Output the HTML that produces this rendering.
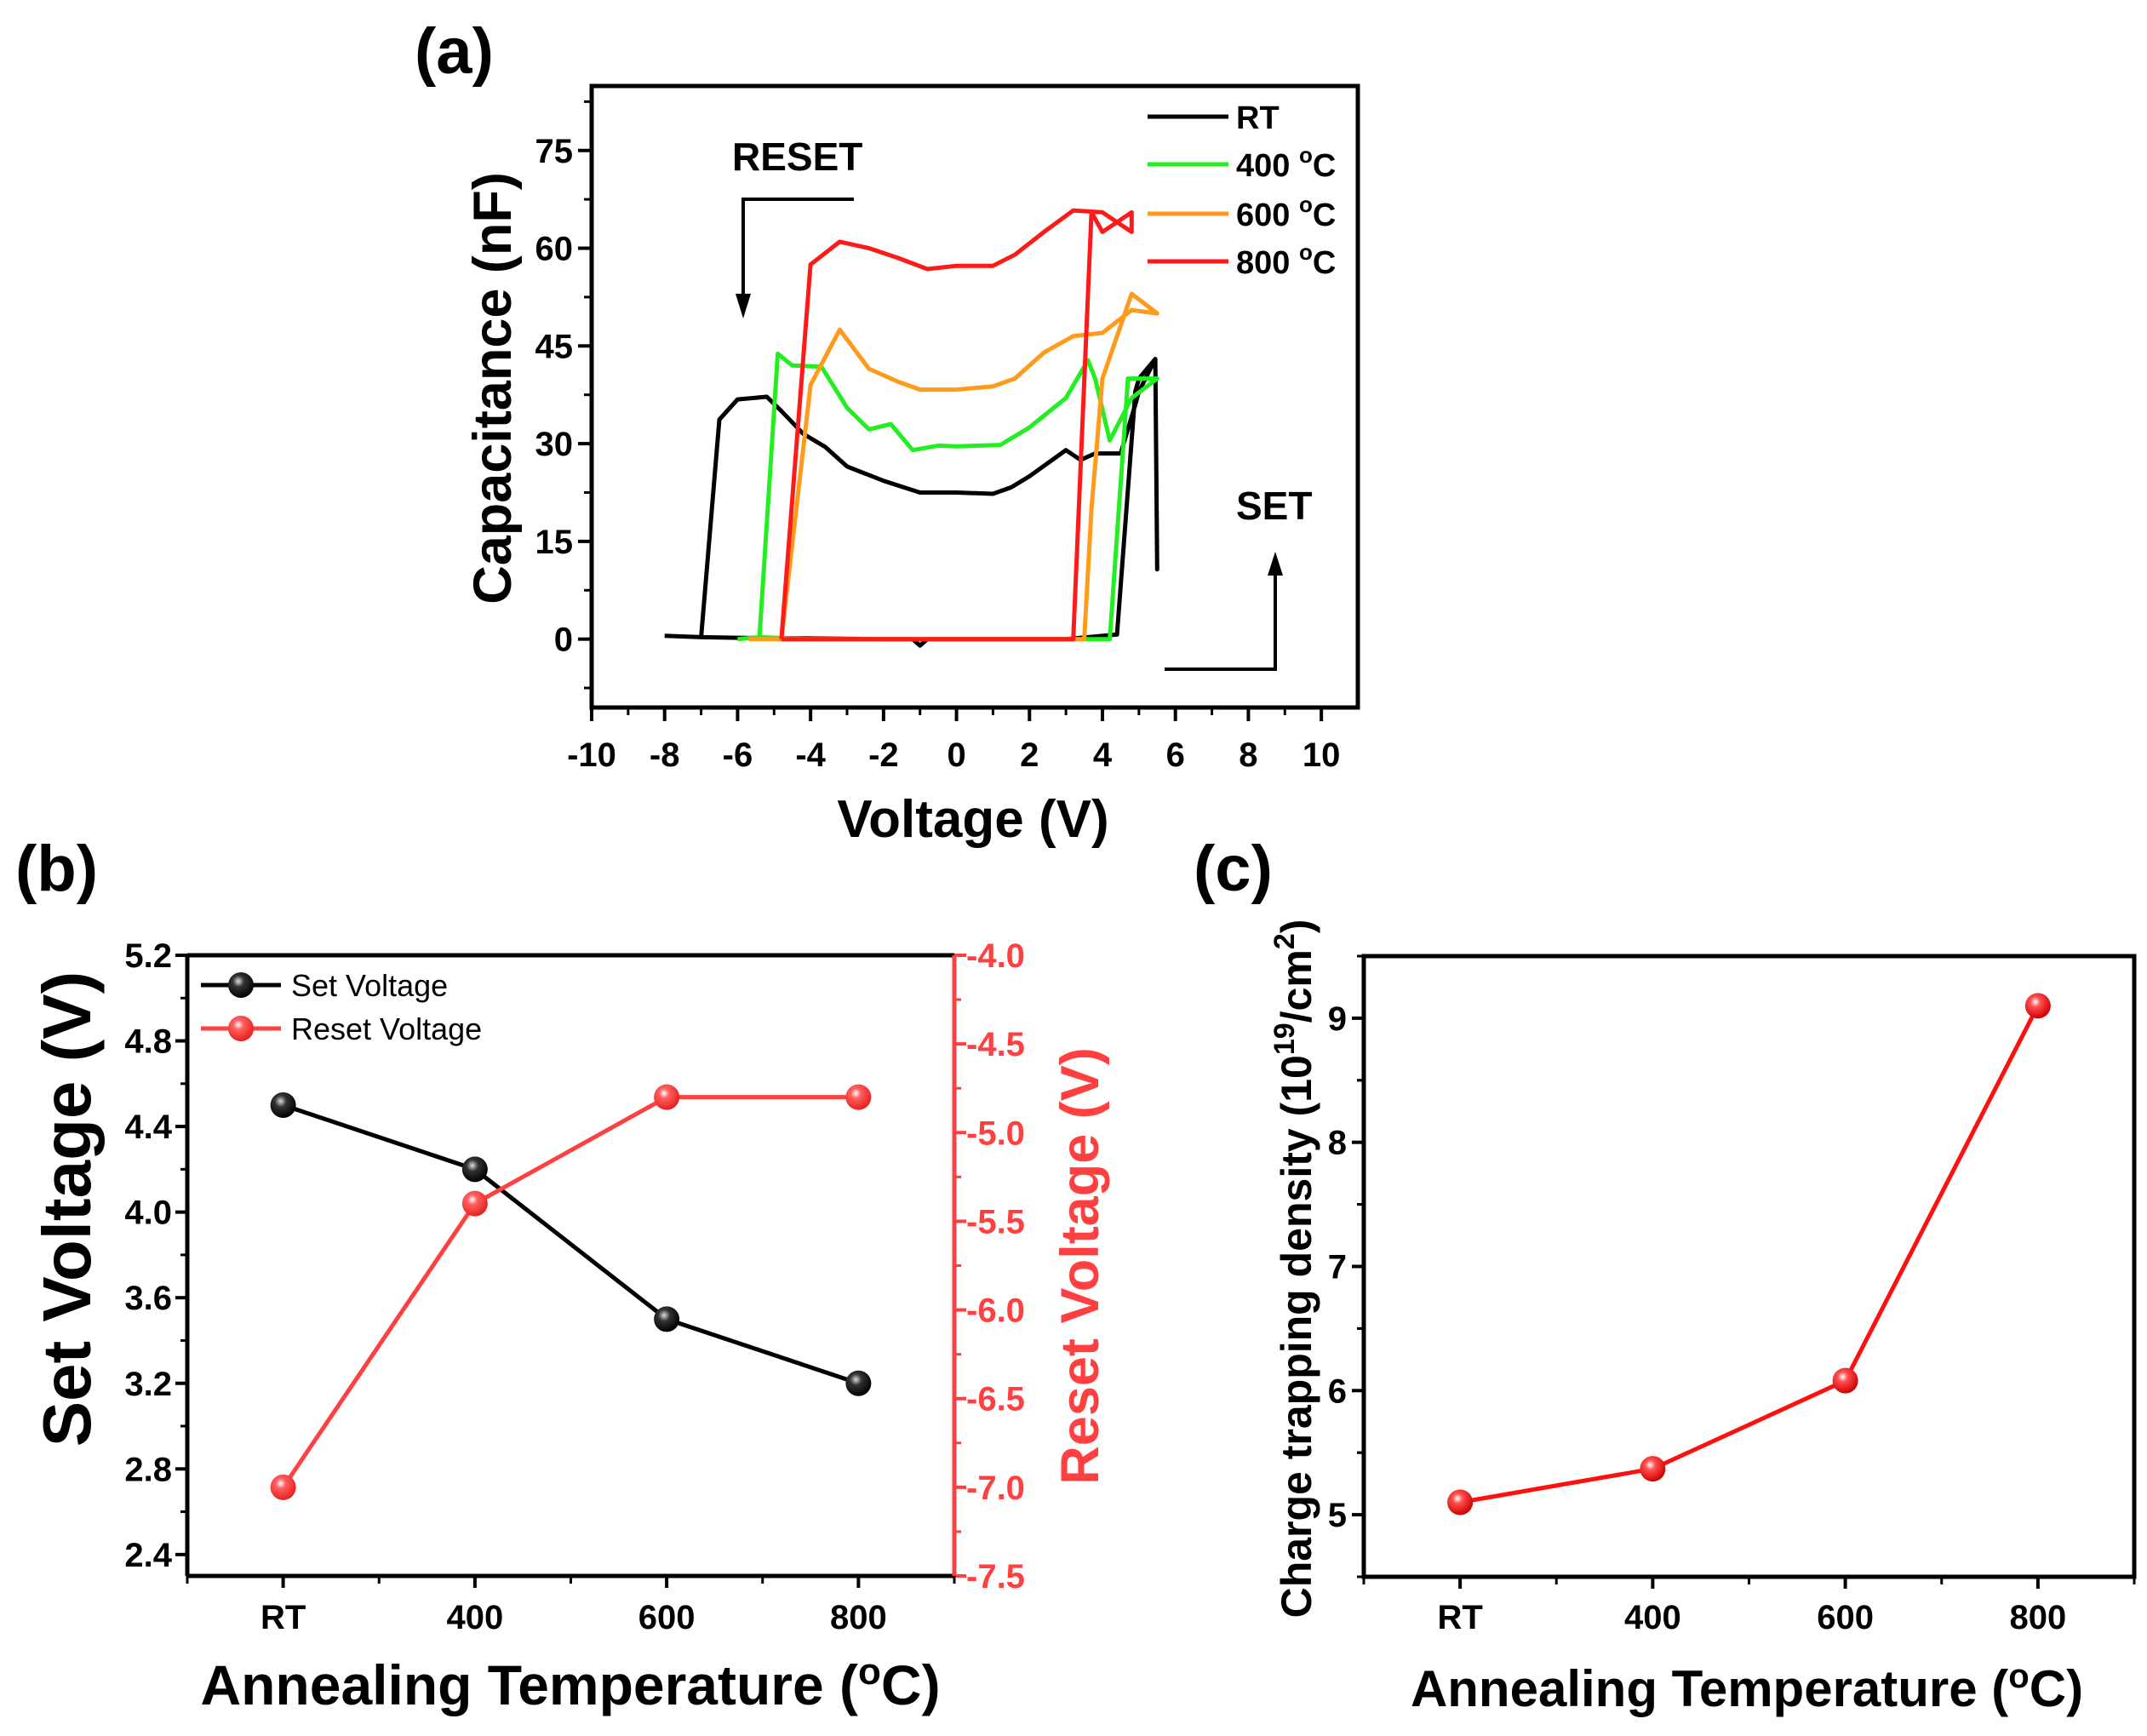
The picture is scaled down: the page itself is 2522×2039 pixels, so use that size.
<!DOCTYPE html>
<html><head><meta charset="utf-8"><style>
html,body{margin:0;padding:0;background:#fff}
svg{display:block;font-family:"Liberation Sans",sans-serif;font-weight:bold}
</style></head><body>
<svg id="fig" width="2522" height="2039" viewBox="0 0 2522 2039" xmlns="http://www.w3.org/2000/svg">
<defs>
<radialGradient id="gBlack" cx="0.4" cy="0.35" r="0.65"><stop offset="0" stop-color="#ddd"/><stop offset="0.35" stop-color="#333"/><stop offset="1" stop-color="#000"/></radialGradient>
<radialGradient id="gRed" cx="0.4" cy="0.35" r="0.65"><stop offset="0" stop-color="#fff"/><stop offset="0.3" stop-color="#ff5050"/><stop offset="1" stop-color="#d00000"/></radialGradient>
<radialGradient id="gRed2" cx="0.4" cy="0.35" r="0.65"><stop offset="0" stop-color="#fff"/><stop offset="0.3" stop-color="#ff6060"/><stop offset="1" stop-color="#e82020"/></radialGradient>
</defs>
<text x="487" y="86" font-size="76">(a)</text>
<text x="18" y="1046" font-size="76">(b)</text>
<text x="1402" y="1046" font-size="76">(c)</text>
<g id="pa"></g>
<g id="pb"></g>
<g id="pc"></g>
</svg>
<script>
// ---------- Panel (a) data ----------
const aXTicks = [-10,-8,-6,-4,-2,0,2,4,6,8,10];
const aYTicks = [0,15,30,45,60,75];
const rtV = [-8,-7,-6,-4,-2,-1.2,-1,-0.8,1,3,4.4,4.9,5.0,5.45,5.5,5.5,5.45,5.0,4.9,4.5,3.8,3.4,3.0,2.0,1.5,1.0,0,-1,-2,-3,-3.6,-4.2,-4.8,-5.2,-6.0,-6.5,-7];
const rtC = [0.5,0.3,0.2,0.1,0,0,-1,0,0,0,0.7,38,40,43,10.7,10.7,43,38,36,28.5,28.5,27.5,29,25,23.3,22.3,22.5,22.5,24.3,26.5,29.5,31.5,35,37.2,36.8,33.7,0.3];
const g400V = [-6,-5.4,-4,-2,0,2,4.2,4.7,5.5,5.5,4.8,4.2,3.8,3.6,3,2,1.2,0,-0.5,-1.2,-1.8,-2.4,-3.0,-3.7,-4.5,-4.9,-5.4];
const g400C = [0,0.3,0,0,0,0,0,40,40,40,37,30.5,40,42.8,37,32.5,29.8,29.6,29.7,29,33,32.2,35.5,41.8,42,43.8,0.3];
const o600V = [-5.7,-4.8,-2,0,2,3.5,3.7,4.0,4.8,5.5,4.8,4.0,3.2,2.4,1.6,1,0,-1,-1.6,-2.4,-3.2,-4.0,-4.8];
const o600C = [0,0,0,0,0,0,20,40,53,50,50.5,47,46.5,44,40,38.8,38.3,38.3,39.5,41.5,47.5,39,0];
const r800V = [-4.8,-2,0,2,3.2,3.7,4.0,4.8,4.8,4.0,3.2,2.4,1.6,1,0,-0.8,-1.6,-2.4,-3.2,-4.0,-4.8];
const r800C = [0,0,0,0,0,65.5,62.5,65.5,62.5,65.5,65.8,62.5,59,57.3,57.3,56.8,58.5,60,61,57.5,0];

// ---------- Panel (b) data ----------
const catLabels = ["RT","400","600","800"];
const setVolt = [4.5,4.2,3.5,3.2];
const resetVolt = [-7.0,-5.4,-4.8,-4.8];
const bLeftTicks = ["2.4","2.8","3.2","3.6","4.0","4.4","4.8","5.2"];
const bRightTicks = ["-7.5","-7.0","-6.5","-6.0","-5.5","-5.0","-4.5","-4.0"];

// ---------- Panel (c) data ----------
const density = [5.1,5.37,6.08,9.1];
const cYTicks = ["5","6","7","8","9"];

const NS = "http://www.w3.org/2000/svg";
function mk(parent, tag, attrs, txt){
  const e = document.createElementNS(NS, tag);
  for (const k in attrs) e.setAttribute(k, attrs[k]);
  if (txt !== undefined) e.textContent = txt;
  parent.appendChild(e);
  return e;
}

// ================= Panel A =================
(function(){
  const g = document.getElementById('pa');
  const L=695,R=1595,T=101,B=831;
  const xmin=-10,xmax=11,ymin=-10.5,ymax=84.9;
  const X = v => L + (v - xmin)/(xmax - xmin)*(R-L);
  const Y = v => B - (v - ymin)/(ymax - ymin)*(B-T);
  const series = [[rtV,rtC,'#000','rt'],[g400V,g400C,'#22ee22','400c'],[o600V,o600C,'#ff9a1a','600c'],[r800V,r800C,'#ff1a1a','800c']];
  series.forEach(s=>{
    const pts = s[0].map((v,i)=>X(v).toFixed(1)+','+Y(s[1][i]).toFixed(1)).join(' ');
    const p = mk(g,'polyline',{points:pts,fill:'none',stroke:s[2],'stroke-width':5,'stroke-linejoin':'round'});
    
    
  });
  const box = mk(g,'rect',{x:L,y:T,width:R-L,height:B-T,fill:'none',stroke:'#000','stroke-width':5});
  
  
  aXTicks.forEach(v=>{
    mk(g,'line',{x1:X(v),x2:X(v),y1:B,y2:B+16,stroke:'#000','stroke-width':4});
    if (v<10) mk(g,'line',{x1:X(v+1),x2:X(v+1),y1:B,y2:B+9,stroke:'#000','stroke-width':3});
    const t = mk(g,'text',{x:X(v),y:900,'font-size':40,'text-anchor':'middle'},String(v));
    
    
  });
  aYTicks.forEach(v=>{
    mk(g,'line',{x1:L-16,x2:L,y1:Y(v),y2:Y(v),stroke:'#000','stroke-width':4});
    mk(g,'line',{x1:L-9,x2:L,y1:Y(v+7.5),y2:Y(v+7.5),stroke:'#000','stroke-width':3});
    const t = mk(g,'text',{x:L-22,y:Y(v)+14,'font-size':40,'text-anchor':'end'},String(v));
    
    
  });
  mk(g,'line',{x1:L-9,x2:L,y1:Y(-7.5),y2:Y(-7.5),stroke:'#000','stroke-width':3});
  const yt = mk(g,'text',{x:0,y:0,'font-size':63,'text-anchor':'middle',transform:'translate(600,456) rotate(-90)'},'Capacitance (nF)');
  
  
  const xt = mk(g,'text',{x:1143,y:983,'font-size':62,'text-anchor':'middle'},'Voltage (V)');
  
  
  // legend
  const leg = [['RT','#000'],['400 ','#22ee22'],['600 ','#ff9a1a'],['800 ','#ff1a1a']];
  const ly = [137,193,251,307];
  leg.forEach((l,i)=>{
    mk(g,'line',{x1:1348,x2:1443,y1:ly[i],y2:ly[i],stroke:l[1],'stroke-width':5});
    const t = mk(g,'text',{x:1452,y:ly[i]+14,'font-size':38},l[0]);
    if (i>0){ mk(t,'tspan',{'font-size':26,dy:-16},'o'); mk(t,'tspan',{dy:16},'C'); }
    
    
  });
  // annotations
  const rs = mk(g,'text',{x:860,y:200,'font-size':46},'RESET');
  
  
  mk(g,'polyline',{points:'1003,234 873,234 873,350',fill:'none',stroke:'#000','stroke-width':4});
  mk(g,'polygon',{points:'864,345 882,345 873,374',fill:'#000'});
  const st = mk(g,'text',{x:1452,y:610,'font-size':46},'SET');
  
  
  mk(g,'polyline',{points:'1368,786 1498,786 1498,672',fill:'none',stroke:'#000','stroke-width':4});
  mk(g,'polygon',{points:'1489,676 1507,676 1498,648',fill:'#000'});
})();

function ball(g, cx, cy, fill, name){
  const c = mk(g,'circle',{cx:cx,cy:cy,r:15,fill:fill});
  
  
}

// ================= Panel B =================
(function(){
  const g = document.getElementById('pb');
  const L=220,R=1121,T=1122,B=1851;
  const X = i => L + (i + 0.5)/4*(R-L);
  const YL = v => B - (v - 2.3)/(5.2-2.3)*(B-T);
  const YR = v => B - (v + 7.5)/3.5*(B-T);
  mk(g,'polyline',{points:setVolt.map((v,i)=>X(i)+','+YL(v)).join(' '),fill:'none',stroke:'#000','stroke-width':5});
  mk(g,'polyline',{points:resetVolt.map((v,i)=>X(i)+','+YR(v)).join(' '),fill:'none',stroke:'#ff4040','stroke-width':5});
  setVolt.forEach((v,i)=>ball(g,X(i),YL(v),'url(#gBlack)','set-voltage-point'));
  resetVolt.forEach((v,i)=>ball(g,X(i),YR(v),'url(#gRed2)','reset-voltage-point'));
  mk(g,'line',{x1:L,x2:R,y1:T,y2:T,stroke:'#000','stroke-width':5});
  mk(g,'line',{x1:L,x2:R,y1:B,y2:B,stroke:'#000','stroke-width':5});
  mk(g,'line',{x1:L,x2:L,y1:T,y2:B,stroke:'#000','stroke-width':5});
  mk(g,'line',{x1:R,x2:R,y1:T,y2:B,stroke:'#ff4040','stroke-width':5});
  bLeftTicks.forEach(s=>{
    const v = parseFloat(s), y = YL(v);
    mk(g,'line',{x1:L-14,x2:L,y1:y,y2:y,stroke:'#000','stroke-width':4});
    if (v<5.2) mk(g,'line',{x1:L-8,x2:L,y1:YL(v+0.2),y2:YL(v+0.2),stroke:'#000','stroke-width':3});
    const t = mk(g,'text',{x:L-18,y:y+14,'font-size':40,'text-anchor':'end'},s);
    
    
  });
  bRightTicks.forEach(s=>{
    const v = parseFloat(s), y = YR(v);
    mk(g,'line',{x1:R,x2:R+14,y1:y,y2:y,stroke:'#ff4040','stroke-width':4});
    if (v<-4) mk(g,'line',{x1:R,x2:R+8,y1:YR(v+0.25),y2:YR(v+0.25),stroke:'#ff4040','stroke-width':3});
    const t = mk(g,'text',{x:R+14,y:y+14,'font-size':40,fill:'#ff4040'},s);
    
    
  });
  catLabels.forEach((c,i)=>{
    mk(g,'line',{x1:X(i),x2:X(i),y1:B,y2:B+14,stroke:'#000','stroke-width':4});
    mk(g,'line',{x1:X(i)+(R-L)/8,x2:X(i)+(R-L)/8,y1:B,y2:B+9,stroke:'#000','stroke-width':3});
    const t = mk(g,'text',{x:X(i),y:1913,'font-size':40,'text-anchor':'middle'},c);
    
    
  });
  mk(g,'line',{x1:L,x2:L,y1:B,y2:B+9,stroke:'#000','stroke-width':3});
  const yl = mk(g,'text',{'font-size':80,'text-anchor':'middle',transform:'translate(106,1420) rotate(-90)'},'Set Voltage (V)');
  
  
  const yr = mk(g,'text',{'font-size':63,'text-anchor':'middle',fill:'#ff4040',transform:'translate(1290,1487) rotate(-90)'},'Reset Voltage (V)');
  
  
  const xt = mk(g,'text',{x:670,y:2002,'font-size':66,'text-anchor':'middle'},'Annealing Temperature (');
  mk(xt,'tspan',{'font-size':44,dy:-24},'o'); mk(xt,'tspan',{dy:24},'C)');
  
  
  // legend
  mk(g,'line',{x1:236,x2:330,y1:1157,y2:1157,stroke:'#000','stroke-width':5});
  ball(g,283,1157,'url(#gBlack)','legend-set-marker');
  const t1 = mk(g,'text',{x:342,y:1170,'font-size':36,'font-weight':'normal'},'Set Voltage');
  
  
  mk(g,'line',{x1:236,x2:330,y1:1208,y2:1208,stroke:'#ff4040','stroke-width':5});
  ball(g,283,1208,'url(#gRed2)','legend-reset-marker');
  const t2 = mk(g,'text',{x:342,y:1221,'font-size':36,'font-weight':'normal'},'Reset Voltage');
  
  
})();

// ================= Panel C =================
(function(){
  const g = document.getElementById('pc');
  const L=1602,R=2507,T=1123,B=1852;
  const X = i => L + (i + 0.5)/4*(R-L);
  const Y = v => B - (v - 4.5)/5*(B-T);
  mk(g,'polyline',{points:density.map((v,i)=>X(i)+','+Y(v)).join(' '),fill:'none',stroke:'#ff1010','stroke-width':5});
  density.forEach((v,i)=>ball(g,X(i),Y(v),'url(#gRed)','density-point'));
  const box = mk(g,'rect',{x:L,y:T,width:R-L,height:B-T,fill:'none',stroke:'#000','stroke-width':5});
  
  
  cYTicks.forEach(s=>{
    const v = parseFloat(s), y = Y(v);
    mk(g,'line',{x1:L-14,x2:L,y1:y,y2:y,stroke:'#000','stroke-width':4});
    mk(g,'line',{x1:L-8,x2:L,y1:Y(v+0.5),y2:Y(v+0.5),stroke:'#000','stroke-width':3});
    mk(g,'line',{x1:L-8,x2:L,y1:Y(v-0.5),y2:Y(v-0.5),stroke:'#000','stroke-width':3});
    const t = mk(g,'text',{x:L-20,y:y+14,'font-size':40,'text-anchor':'end'},s);
    
    
  });
  catLabels.forEach((c,i)=>{
    mk(g,'line',{x1:X(i),x2:X(i),y1:B,y2:B+14,stroke:'#000','stroke-width':4});
    mk(g,'line',{x1:X(i)+(R-L)/8,x2:X(i)+(R-L)/8,y1:B,y2:B+9,stroke:'#000','stroke-width':3});
    const t = mk(g,'text',{x:X(i),y:1913,'font-size':40,'text-anchor':'middle'},c);
    
    
  });
  mk(g,'line',{x1:L,x2:L,y1:B,y2:B+9,stroke:'#000','stroke-width':3});
  const yl = mk(g,'text',{'font-size':50,'text-anchor':'middle',transform:'translate(1540,1490) rotate(-90)'},'Charge trapping density (10');
  mk(yl,'tspan',{'font-size':34,dy:-20},'19'); mk(yl,'tspan',{dy:20},'/cm'); mk(yl,'tspan',{'font-size':34,dy:-20},'2'); mk(yl,'tspan',{dy:20},')');
  
  
  const xt = mk(g,'text',{x:2052,y:2004,'font-size':60,'text-anchor':'middle'},'Annealing Temperature (');
  mk(xt,'tspan',{'font-size':40,dy:-22},'o'); mk(xt,'tspan',{dy:22},'C)');
  
  
})();
</script>
</body></html>
